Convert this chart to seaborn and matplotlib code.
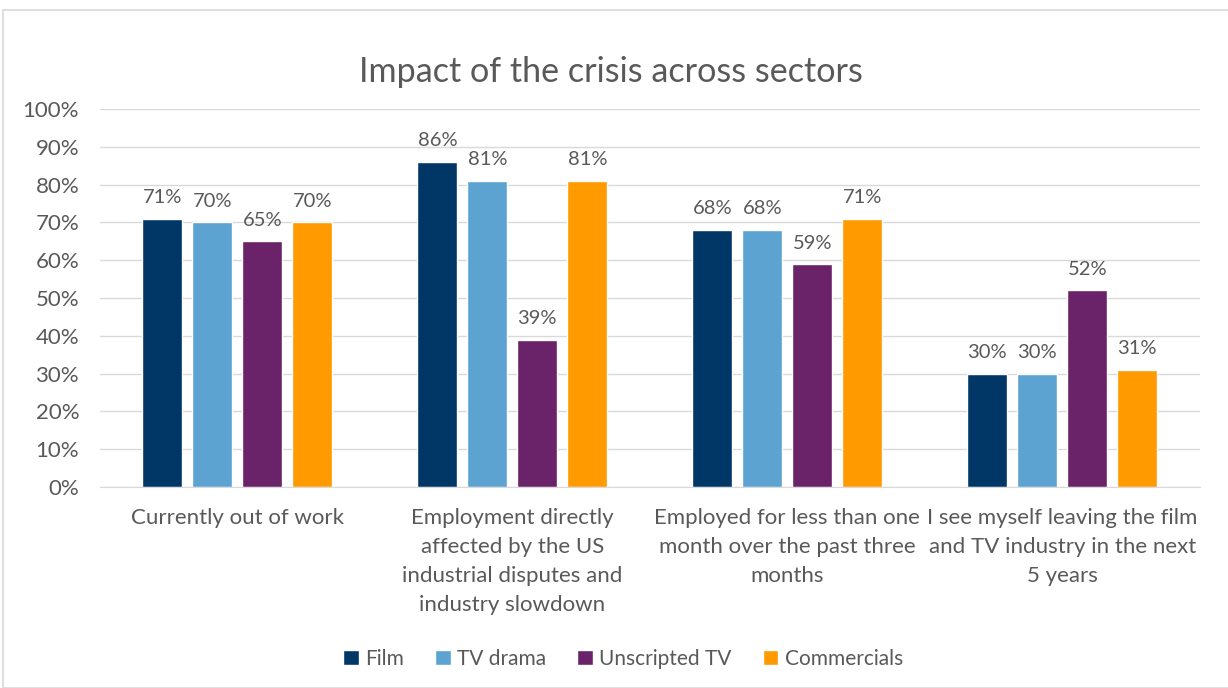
import matplotlib
matplotlib.use("Agg")
import matplotlib.pyplot as plt
import seaborn as sns
import pandas as pd
from matplotlib.patches import Rectangle

categories = [
    "Currently out of work",
    "Employment directly\naffected by the US\nindustrial disputes and\nindustry slowdown",
    "Employed for less than one\nmonth over the past three\nmonths",
    "I see myself leaving the film\nand TV industry in the next\n5 years",
]
series_names = ["Film", "TV drama", "Unscripted TV", "Commercials"]
film = [71, 86, 68, 30]
tv_drama = [70, 81, 68, 30]
unscripted = [65, 39, 59, 52]
commercials = [70, 81, 71, 31]
yticks = [0, 10, 20, 30, 40, 50, 60, 70, 80, 90, 100]
colors = ["#003767", "#5DA3D2", "#6A2268", "#FF9A00"]

rows = []
for name, vals in zip(series_names, [film, tv_drama, unscripted, commercials]):
    for c, v in zip(categories, vals):
        rows.append({"category": c, "series": name, "value": v})
df = pd.DataFrame(rows)

sns.set_style("white")
plt.rcParams["font.family"] = ["Lato", "DejaVu Sans"]
text_color = "#595959"

fig = plt.figure(figsize=(12.28, 6.88), dpi=100)
ax = fig.add_axes([0.0814, 0.292, 0.8956, 0.5496])

sns.barplot(data=df, x="category", y="value", hue="series", order=categories,
            hue_order=series_names, palette=colors, width=0.727, gap=0.2,
            saturation=1, ax=ax, errorbar=None, legend=True)

for cont in ax.containers:
    ax.bar_label(cont, labels=[f"{int(round(v))}%" for v in cont.datavalues],
                 padding=9, fontsize=14.5, color=text_color)

ax.set_ylim(0, 100)
ax.set_xlim(-0.5, 3.5)
ax.set_yticks(yticks)
ax.set_yticklabels([f"{t}%" for t in yticks])
ax.yaxis.grid(True, color="#D9D9D9", linewidth=1)
ax.set_axisbelow(True)
for s in ["top", "right", "left"]:
    ax.spines[s].set_visible(False)
ax.spines["bottom"].set_color("#D9D9D9")
ax.tick_params(axis="both", length=0, labelsize=16, colors=text_color)
ax.tick_params(axis="y", pad=15)
ax.tick_params(axis="x", pad=15)
for lab in ax.get_xticklabels():
    lab.set_linespacing(1.56)
    lab.set_verticalalignment("top")
ax.set_xlabel("")
ax.set_ylabel("")

fig.text(611 / 1228, (688 - 72) / 688, "Impact of the crisis across sectors", fontsize=24.6,
         color=text_color, ha="center", va="center")

leg = ax.legend(loc="center", bbox_to_anchor=(623 / 1228, (688 - 659) / 688), bbox_transform=fig.transFigure,
                ncol=4, frameon=False, fontsize=15, handlelength=0.75, handleheight=0.75,
                handletextpad=0.3, columnspacing=1.5, labelcolor=text_color)

fig.patches.append(Rectangle((3 / 1228, 0), 1.2, (688 - 10) / 688, transform=fig.transFigure,
                             fill=False, edgecolor="#D9D9D9", linewidth=1.2, zorder=0))

fig.savefig("out.png", dpi=100)
